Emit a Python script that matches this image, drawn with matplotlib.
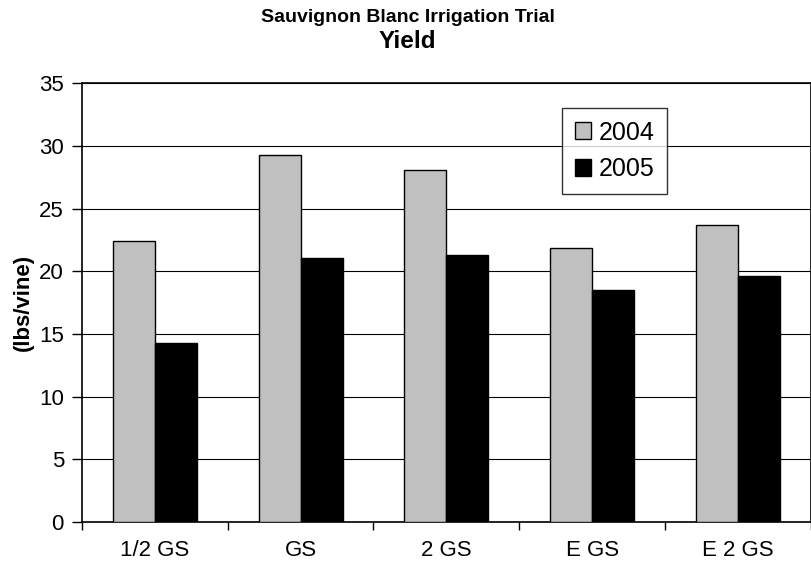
import numpy as np
import matplotlib
matplotlib.use('Agg')
import matplotlib.pyplot as plt

# Data
categories = ['1/2 GS', 'GS', '2 GS', 'E GS', 'E 2 GS']
yield_2004 = [22.4, 29.3, 28.1, 21.9, 23.7]
yield_2005 = [14.3, 21.1, 21.3, 18.5, 19.6]

plt.rcParams['font.family'] = ['Liberation Sans', 'DejaVu Sans']

fig = plt.figure(figsize=(8.12, 5.69), dpi=100)
ax = fig.add_axes([0.101, 0.0831, 0.8974, 0.7702])

x = np.arange(len(categories))
w = 0.288
ax.bar(x - w / 2, yield_2004, w, color='#C0C0C0', edgecolor='black', linewidth=1, label='2004', zorder=3)
ax.bar(x + w / 2, yield_2005, w, color='black', edgecolor='black', linewidth=1, label='2005', zorder=3)

ax.set_xlim(-0.5, len(categories) - 0.5)
ax.set_ylim(0, 35)
ax.set_yticks(np.arange(0, 36, 5))
ax.yaxis.grid(True, color='black', linewidth=0.8, zorder=0)
ax.set_axisbelow(True)

ax.set_xticks(x)
ax.set_xticklabels(categories)
ax.set_xticks(np.arange(-0.5, len(categories), 1), minor=True)
ax.tick_params(axis='x', which='major', length=0, pad=13, labelsize=16)
ax.tick_params(axis='x', which='minor', length=6, width=1, direction='out')
ax.tick_params(axis='y', length=7, width=1, direction='out', pad=6, labelsize=16)

for s in ax.spines.values():
    s.set_linewidth(1.2)

ax.set_ylabel('(lbs/vine)', fontsize=16, fontweight='bold', labelpad=4)

fig.text(0.502, 0.97, 'Sauvignon Blanc Irrigation Trial', ha='center', va='center',
         fontsize=14, fontweight='bold')
fig.text(0.502, 0.927, 'Yield', ha='center', va='center', fontsize=17.5, fontweight='bold')

leg = ax.legend(loc='upper left', bbox_to_anchor=(0.659, 0.944), borderaxespad=0,
                fontsize=18, frameon=True, fancybox=False, edgecolor='black',
                handlelength=0.65, handleheight=0.65, handletextpad=0.3,
                labelspacing=0.5, borderpad=0.5)
leg.get_frame().set_linewidth(1)

fig.savefig('out.png', dpi=100)
